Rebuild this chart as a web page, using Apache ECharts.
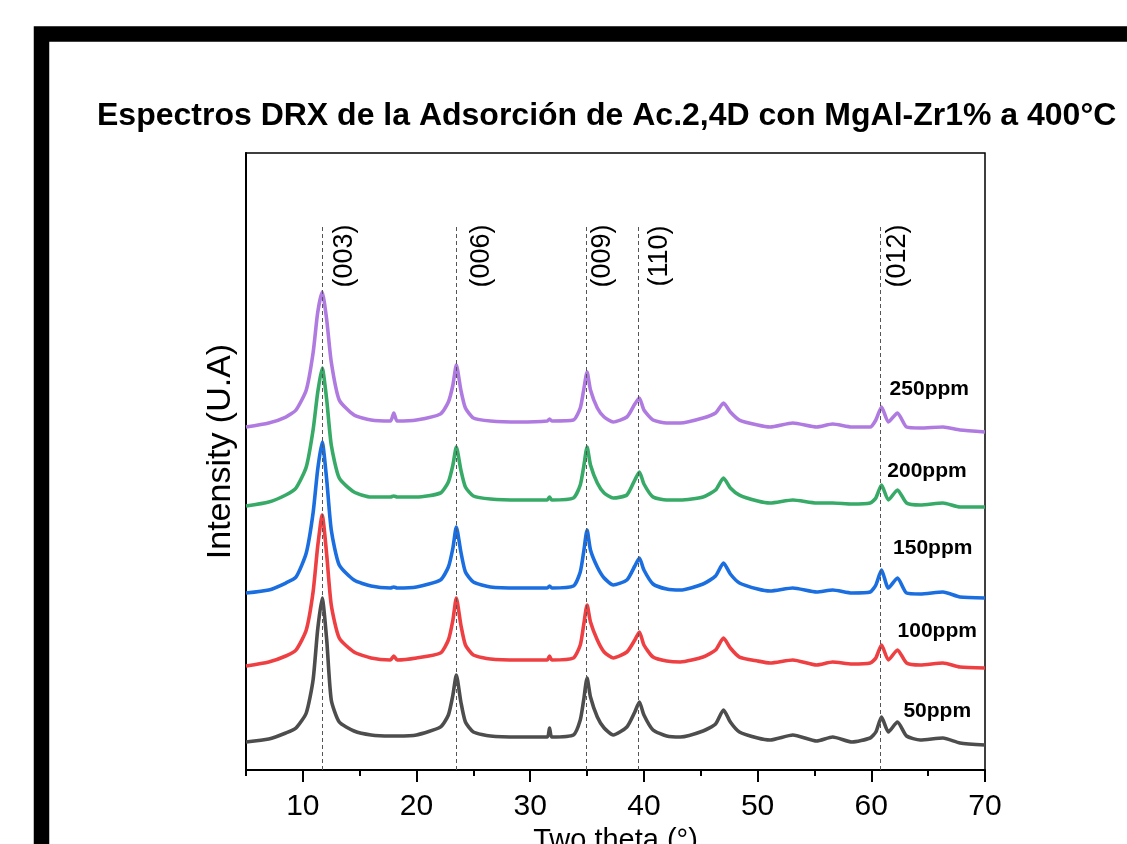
<!DOCTYPE html>
<html>
<head>
<meta charset="utf-8">
<script src="https://cdn.jsdelivr.net/npm/echarts@6/dist/echarts.min.js"></script>
<style>
html,body{margin:0;padding:0;background:#fff;}
#c{width:1127px;height:844px;}
</style>
</head>
<body>
<div id="c"></div>
<script>
// Two theta (°)
var twoTheta = [5, 7, 8.5, 9.4, 10.3, 10.9, 11.3, 11.7, 12.1, 12.5, 13.2, 14.5, 16, 17.7, 18.0, 18.3, 20, 22.1, 22.8, 23.2, 23.5, 23.9, 24.3, 25, 26.5, 29, 31.5, 31.7, 31.9, 33.8, 34.4, 34.7, 35.0, 35.3, 35.9, 36.5, 37.3, 38.5, 39.2, 39.6, 40.0, 40.8, 42, 43.2, 45.2, 46.3, 47.0, 47.6, 48.4, 50, 51.1, 53.1, 55.2, 56.6, 58.3, 59.9, 60.4, 60.9, 61.5, 62.3, 63.1, 64.3, 66.3, 67.8, 70];

// Intensity (U.A), stacked traces (offset included)
var ppm50  = [28, 31, 37, 42, 57, 90, 140, 172, 130, 70, 48, 39, 35, 34, 34, 34, 35, 43, 55, 75, 95, 68, 48, 38, 34, 33, 33, 42, 33, 35, 50, 70, 92, 73, 53, 42, 35, 43, 58, 68, 55, 40, 34, 33, 39, 46, 60, 48, 38, 32, 30, 35, 29, 33, 28, 32, 38, 53, 38, 48, 34, 30, 32, 27, 25];
var ppm100 = [104, 108, 114, 120, 140, 178, 223, 255, 215, 165, 132, 118, 112, 110, 114, 110, 112, 117, 130, 150, 172, 145, 125, 115, 111, 110, 110, 114, 110, 112, 125, 145, 165, 148, 130, 118, 112, 118, 130, 138, 125, 113, 109, 108, 113, 120, 132, 122, 113, 109, 107, 110, 105, 108, 106, 107, 112, 125, 110, 120, 107, 105, 107, 103, 102];
var ppm150 = [177, 180, 187, 193, 217, 257, 300, 328, 290, 240, 205, 190, 184, 182, 183, 182, 183, 190, 203, 222, 243, 218, 198, 188, 183, 182, 182, 184, 182, 184, 198, 218, 240, 220, 203, 192, 185, 190, 204, 212, 200, 186, 181, 180, 186, 194, 207, 196, 187, 181, 179, 182, 178, 180, 177, 178, 185, 200, 182, 192, 177, 176, 178, 173, 172];
var ppm200 = [264, 268, 275, 282, 303, 340, 377, 402, 370, 325, 292, 278, 273, 273, 274, 273, 273, 277, 288, 305, 323, 300, 283, 274, 271, 270, 270, 273, 270, 272, 285, 303, 323, 305, 287, 277, 272, 275, 290, 298, 286, 273, 270, 270, 273, 280, 292, 282, 275, 269, 267, 270, 267, 267, 266, 267, 272, 285, 270, 280, 267, 265, 267, 263, 263];
var ppm250 = [343, 347, 353, 360, 380, 417, 457, 478, 450, 408, 370, 355, 350, 349, 357, 349, 350, 356, 368, 385, 405, 380, 362, 352, 349, 348, 349, 351, 349, 350, 362, 380, 398, 380, 362, 353, 348, 353, 366, 372, 360, 350, 347, 347, 352, 357, 367, 358, 350, 345, 343, 347, 343, 346, 343, 343, 350, 363, 348, 357, 343, 342, 343, 340, 338];

var seriesNames = ['50ppm', '100ppm', '150ppm', '200ppm', '250ppm'];
var seriesColors = ['#4d4d4d', '#ee3f42', '#1a6ee0', '#36aa66', '#b07be0'];
// label anchors (two theta, intensity) for the sample names
var nameLabelX = [65.8, 65.8, 65.4, 64.9, 65.1];
var nameLabelY = [59, 139, 222, 299, 381];

// reflections
var peakNames = ['(003)', '(006)', '(009)', '(110)', '(012)'];
var peakPos = [11.7, 23.5, 34.9, 39.5, 60.8];
var peakLabelX = [13.7, 25.7, 36.4, 41.4, 62.35];
var peakLineTop = 544;
var peakLabelY = 514;

var majorTicks = [10, 20, 30, 40, 50, 60, 70];
var minorTicks = [5, 15, 25, 35, 45, 55, 65];

var FONT = "'Liberation Sans', Arial, Helvetica, sans-serif";
var traces = [ppm50, ppm100, ppm150, ppm200, ppm250];

var series = [];
// draw order: 250 first, 50 last
for (var k = traces.length - 1; k >= 0; k--) {
  series.push({
    name: seriesNames[k],
    type: 'line',
    data: twoTheta.map(function (x, i) { return [x, traces[k][i]]; }),
    showSymbol: false,
    smooth: 0.2,
    lineStyle: { color: seriesColors[k], width: 3.6 },
    itemStyle: { color: seriesColors[k] },
    z: 2,
    silent: true,
    markPoint: {
      symbol: 'circle', symbolSize: 1,
      itemStyle: { color: 'rgba(0,0,0,0)' },
      label: { show: true, position: 'inside', color: '#000', fontWeight: 'bold', fontSize: 21, fontFamily: FONT, formatter: seriesNames[k] },
      data: [{ coord: [nameLabelX[k], nameLabelY[k]] }]
    }
  });
}

// reference lines + reflection labels
series.push({
  type: 'line',
  data: [],
  z: 5,
  silent: true,
  markLine: {
    symbol: ['none', 'none'],
    silent: true,
    label: { show: false },
    lineStyle: { color: '#555', width: 1, type: [4, 3] },
    data: peakPos.map(function (p) { return [{ coord: [p, 0] }, { coord: [p, peakLineTop] }]; })
  },
  markPoint: {
    symbol: 'circle', symbolSize: 1,
    itemStyle: { color: 'rgba(0,0,0,0)' },
    label: { show: true, position: 'inside', rotate: 90, color: '#000', fontSize: 27, fontFamily: FONT, formatter: function (p) { return p.name; } },
    data: peakNames.map(function (n, i) { return { name: n, coord: [peakLabelX[i], peakLabelY] }; })
  }
});

var chart = echarts.init(document.getElementById('c'));
chart.setOption({
  backgroundColor: '#fff',
  animation: false,
  title: {
    text: 'Espectros DRX de la Adsorción de Ac.2,4D con MgAl-Zr1% a 400°C',
    left: 92, top: 95,
    textStyle: { fontFamily: FONT, fontSize: 32, fontWeight: 'bold', color: '#000' }
  },
  graphic: [{
    type: 'rect',
    shape: { x: 41.5, y: 34, width: 1400, height: 1200 },
    style: { fill: 'none', stroke: '#000', lineWidth: 15.5 },
    z: 100
  }],
  grid: { left: 246, top: 153, width: 739, height: 617, outerBoundsMode: 'none', containLabel: false, show: true, borderColor: '#000', borderWidth: 1.5, backgroundColor: 'transparent' },
  xAxis: [{
    type: 'value', min: 5, max: 70, position: 'bottom',
    name: 'Two theta (°)', nameLocation: 'middle', nameGap: 56,
    nameTextStyle: { fontFamily: FONT, fontSize: 29, color: '#000' },
    axisLine: { show: true, onZero: false, lineStyle: { color: '#000', width: 2 } },
    axisTick: { show: true, inside: false, length: 12, customValues: majorTicks, lineStyle: { color: '#000', width: 2 } },
    axisLabel: { show: true, customValues: majorTicks, margin: 22, fontFamily: FONT, fontSize: 30, color: '#000' },
    splitLine: { show: false }
  }, {
    type: 'value', min: 5, max: 70, position: 'bottom', gridIndex: 0,
    axisLine: { show: false, onZero: false },
    axisTick: { show: true, inside: false, length: 6, customValues: minorTicks, lineStyle: { color: '#000', width: 2 } },
    axisLabel: { show: false },
    splitLine: { show: false }
  }],
  yAxis: {
    type: 'value', min: 0, max: 617,
    name: 'Intensity (U.A)', nameLocation: 'middle', nameGap: 8,
    nameTextStyle: { fontFamily: FONT, fontSize: 34, color: '#000', padding: [0, 0, 0, 20] },
    axisLine: { show: true, lineStyle: { color: '#000', width: 2 } },
    axisTick: { show: false },
    axisLabel: { show: false },
    splitLine: { show: false }
  },
  series: series
});
</script>
</body>
</html>
